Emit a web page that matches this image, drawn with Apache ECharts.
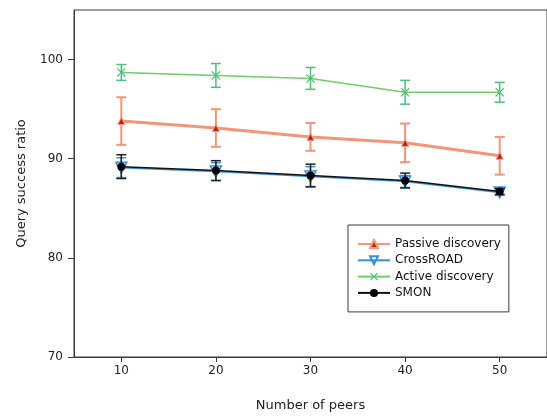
<!DOCTYPE html>
<html>
<head>
<meta charset="utf-8">
<script src="https://cdn.jsdelivr.net/npm/echarts@6/dist/echarts.min.js"></script>
<style>
  html, body { margin: 0; padding: 0; background: #fff; }
  #chart { width: 547px; height: 419px; }
</style>
</head>
<body>
<div id="chart"></div>
<script>
// Number of peers on the x axis
var peers = [10, 20, 30, 40, 50];
var xTicks = [10, 20, 30, 40, 50];
var yTicks = [70, 80, 90, 100];

// Query success ratio (mean) and error half-widths per scheme
var passive = [93.8, 93.1, 92.2, 91.6, 90.3];
var passiveErr = [2.4, 1.9, 1.4, 1.95, 1.9];
var crossroad = [89.1, 88.7, 88.2, 87.7, 86.6];
var crossroadErr = [1.0, 0.9, 1.0, 0.6, 0.3];
var active = [98.7, 98.4, 98.1, 96.7, 96.7];
var activeErr = [0.8, 1.2, 1.1, 1.2, 1.0];
var smon = [89.2, 88.8, 88.3, 87.8, 86.7];
var smonErr = [1.2, 1.0, 1.15, 0.75, 0.3];

var FONT = 'DejaVu Sans';
var X_MARK = 'path://M0,1L1,0L5,4L9,0L10,1L6,5L10,9L9,10L5,6L1,10L0,9L4,5Z';

function pairs(vals) {
  return peers.map(function (p, i) { return [p, vals[i]]; });
}
function errData(vals, errs) {
  return peers.map(function (p, i) { return [p, vals[i] - errs[i], vals[i] + errs[i]]; });
}
function errSeries(name, vals, errs, color, width, z) {
  return {
    type: 'custom',
    name: name + ' error',
    z: z,
    silent: true,
    data: errData(vals, errs),
    renderItem: function (params, api) {
      var lo = api.coord([api.value(0), api.value(1)]);
      var hi = api.coord([api.value(0), api.value(2)]);
      var h = 5;
      var st = { stroke: color, lineWidth: width };
      return {
        type: 'group',
        children: [
          { type: 'line', shape: { x1: lo[0], y1: lo[1], x2: hi[0], y2: hi[1] }, style: st },
          { type: 'line', shape: { x1: lo[0] - h, y1: lo[1], x2: lo[0] + h, y2: lo[1] }, style: st },
          { type: 'line', shape: { x1: hi[0] - h, y1: hi[1], x2: hi[0] + h, y2: hi[1] }, style: st }
        ]
      };
    }
  };
}

var chart = echarts.init(document.getElementById('chart'), null, { renderer: 'canvas' });
chart.setOption({
  animation: false,
  backgroundColor: '#ffffff',
  grid: {
    left: 74, top: 10, right: -10, bottom: 62,
    show: true, borderColor: '#3a3a3a', borderWidth: 1
  },
  xAxis: {
    type: 'value', min: 5, max: 55,
    name: 'Number of peers', nameLocation: 'middle', nameGap: 42,
    nameTextStyle: { fontFamily: FONT, fontSize: 13, color: '#222' },
    axisLine: { show: true, lineStyle: { color: '#3a3a3a', width: 1 } },
    axisTick: { show: true, length: 5, customValues: xTicks, lineStyle: { color: '#3a3a3a' } },
    axisLabel: { customValues: xTicks, fontFamily: FONT, fontSize: 12, color: '#222', margin: 8 },
    splitLine: { show: false }
  },
  yAxis: {
    type: 'value', min: 70, max: 105,
    name: 'Query success ratio', nameLocation: 'middle', nameGap: 46,
    nameTextStyle: { fontFamily: FONT, fontSize: 13, color: '#222' },
    axisLine: { show: true, lineStyle: { color: '#3a3a3a', width: 1 } },
    axisTick: { show: true, length: 6, customValues: yTicks, lineStyle: { color: '#3a3a3a' } },
    axisLabel: { customValues: yTicks, fontFamily: FONT, fontSize: 12, color: '#222', margin: 11 },
    splitLine: { show: false }
  },
  legend: {
    orient: 'vertical',
    left: 348, top: 225,
    padding: [13, 8, 13, 9],
    itemWidth: 32, itemHeight: 10, itemGap: 4.3,
    borderColor: '#3a3a3a', borderWidth: 1,
    backgroundColor: '#fff',
    textStyle: { fontFamily: FONT, fontSize: 12, lineHeight: 12, color: '#111' },
    data: ['Passive discovery', 'CrossROAD', 'Active discovery', 'SMON']
  },
  series: [
    errSeries('Passive discovery', passive, passiveErr, '#F49478', 2, 2),
    {
      type: 'line', name: 'Passive discovery', z: 3,
      data: pairs(passive),
      lineStyle: { color: '#F49478', width: 3 },
      symbol: 'triangle', symbolSize: 7,
      itemStyle: { color: '#B3261E', borderColor: '#F49478', borderWidth: 1 }
    },
    errSeries('Active discovery', active, activeErr, '#4CC27A', 1.5, 2),
    {
      type: 'line', name: 'Active discovery', z: 3,
      data: pairs(active),
      lineStyle: { color: '#72CC6A', width: 1.5 },
      symbol: X_MARK, symbolSize: 9,
      itemStyle: { color: '#4CC27A' }
    },
    errSeries('CrossROAD', crossroad, crossroadErr, '#3B8EDB', 1.5, 4),
    {
      type: 'line', name: 'CrossROAD', z: 5,
      data: pairs(crossroad),
      lineStyle: { color: '#3B8EDB', width: 1.5 },
      symbol: 'triangle', symbolRotate: 180, symbolSize: 11,
      itemStyle: { color: 'rgba(255,255,255,0)', borderColor: '#3B8EDB', borderWidth: 1.5 }
    },
    errSeries('SMON', smon, smonErr, '#222222', 1.5, 6),
    {
      type: 'line', name: 'SMON', z: 7,
      data: pairs(smon),
      lineStyle: { color: '#111111', width: 1.5 },
      symbol: 'circle', symbolSize: 8,
      itemStyle: { color: '#000000' }
    }
  ]
});
</script>
</body>
</html>
